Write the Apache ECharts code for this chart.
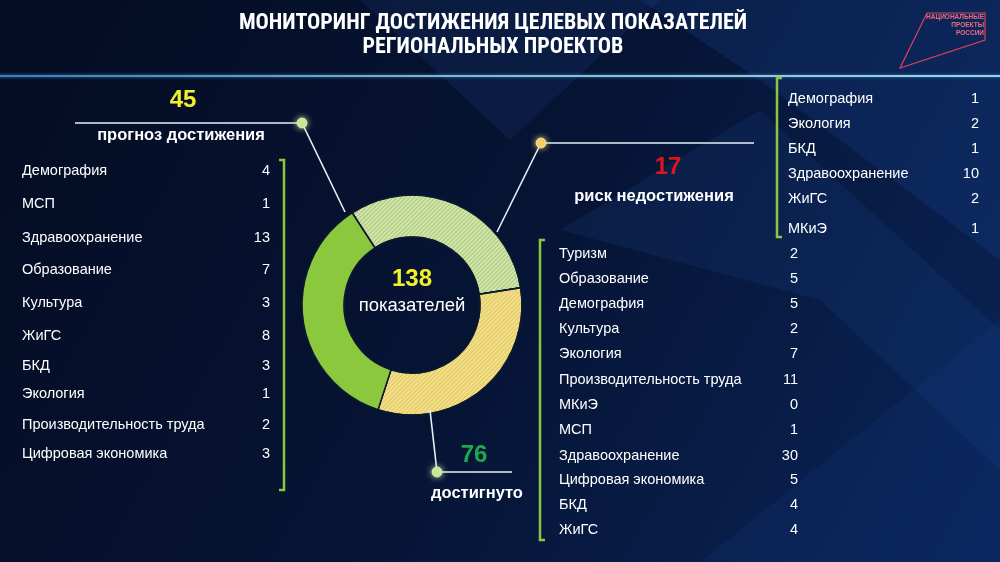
<!DOCTYPE html>
<html><head><meta charset="utf-8">
<script src="https://cdn.jsdelivr.net/npm/echarts@6/dist/echarts.min.js"></script>
<style>html,body{margin:0;padding:0;background:#050f2a;}#c{width:1000px;height:562px;}</style>
</head><body><div id="c"></div>
<script>
// ---- data ----
const titleLines = ['МОНИТОРИНГ ДОСТИЖЕНИЯ ЦЕЛЕВЫХ ПОКАЗАТЕЛЕЙ', 'РЕГИОНАЛЬНЫХ ПРОЕКТОВ'];
const totalCount = 138;
const groupNames = ['прогноз достижения', 'риск недостижения', 'достигнуто'];
const groupTotals = [45, 17, 76];
// arc sizes of the ring as drawn in the picture (degrees): light-green, yellow, green
const ringArcNames = ['прогноз достижения (кольцо)', 'достигнуто (кольцо)', 'прочее (кольцо)'];
const ringArcs = [114, 117, 129];

const forecastCats = ['Демография', 'МСП', 'Здравоохранение', 'Образование', 'Культура', 'ЖиГС', 'БКД', 'Экология', 'Производительность труда', 'Цифровая экономика'];
const forecastVals = [4, 1, 13, 7, 3, 8, 3, 1, 2, 3];

const riskCats = ['Демография', 'Экология', 'БКД', 'Здравоохранение', 'ЖиГС', 'МКиЭ'];
const riskVals = [1, 2, 1, 10, 2, 1];

const doneCats = ['Туризм', 'Образование', 'Демография', 'Культура', 'Экология', 'Производительность труда', 'МКиЭ', 'МСП', 'Здравоохранение', 'Цифровая экономика', 'БКД', 'ЖиГС'];
const doneVals = [2, 5, 5, 2, 7, 11, 0, 1, 30, 5, 4, 4];

// ---- layout ----
const chart = echarts.init(document.getElementById('c'));
const F = 'Arial, "Liberation Sans", sans-serif';
const g = [];

// background shapes
g.push({type:'rect', z:0, shape:{x:0,y:0,width:1000,height:562}, style:{fill:new echarts.graphic.LinearGradient(0,0,1,1,[{offset:0,color:'#040c22'},{offset:0.5,color:'#061434'},{offset:1,color:'#0a2458'}])}});
g.push({type:'polygon', z:0, shape:{points:[[360,0],[660,0],[510,140]]}, style:{fill:'rgba(40,80,160,0.16)'}});
g.push({type:'polygon', z:0, shape:{points:[[560,230],[760,110],[1000,330],[1000,470],[820,300]]}, style:{fill:'rgba(40,90,180,0.13)'}});
g.push({type:'polygon', z:0, shape:{points:[[640,0],[1000,0],[1000,260],[760,80]]}, style:{fill:'rgba(30,80,170,0.2)'}});
g.push({type:'polygon', z:0, shape:{points:[[700,562],[1000,320],[1000,562]]}, style:{fill:'rgba(20,60,140,0.18)'}});

// header glowing line
g.push({type:'rect', z:1, shape:{x:0,y:72,width:1000,height:8}, style:{fill:new echarts.graphic.LinearGradient(0,0,0,1,[{offset:0,color:'rgba(30,90,200,0)'},{offset:0.5,color:'rgba(40,120,220,0.55)'},{offset:1,color:'rgba(30,90,200,0)'}])}});
g.push({type:'rect', z:2, shape:{x:0,y:75,width:1000,height:2}, style:{fill:new echarts.graphic.LinearGradient(0,0,1,0,[{offset:0,color:'#3f7fa0'},{offset:0.5,color:'#8cc0b8'},{offset:1,color:'#a0d8c8'}])}});

// title
titleLines.forEach((t,i)=>g.push({type:'text', z:5, x:493, y:23+i*24, style:{text:t, fill:'#ffffff', font:'bold 22px "Liberation Sans Narrow", "Roboto Condensed", Arial, sans-serif', textAlign:'center', textVerticalAlign:'middle'}}));

// logo
g.push({type:'polyline', z:5, shape:{points:[[927,13],[985,13],[985,40],[900,68],[927,13]]}, style:{stroke:'#d8425e', lineWidth:1.2, fill:null}});
['НАЦИОНАЛЬНЫЕ','ПРОЕКТЫ','РОССИИ'].forEach((t,i)=>g.push({type:'text', z:5, x:984, y:17+i*8, style:{text:t, fill:'#f06a80', font:'bold 6.5px "Liberation Sans Narrow", Arial, sans-serif', textAlign:'right', textVerticalAlign:'middle'}}));

// brackets
function bracket(x, y1, y2, dir){
  g.push({type:'polyline', z:5, shape:{points:[[x+dir*5,y1],[x,y1],[x,y2],[x+dir*5,y2]]}, style:{stroke:'#8cc63e', lineWidth:2.5, fill:null}});
}
bracket(284, 160, 490, -1);
bracket(777, 78, 237, 1);
bracket(540, 240, 540, 1);

// lists
function list(cats, vals, x, valX, ys){
  cats.forEach((c,i)=>{
    g.push({type:'text', z:5, x:x, y:ys[i], style:{text:c, fill:'#ffffff', font:'14.5px '+F, textAlign:'left', textVerticalAlign:'middle'}});
    g.push({type:'text', z:5, x:valX, y:ys[i], style:{text:String(vals[i]), fill:'#ffffff', font:'14.5px '+F, textAlign:'right', textVerticalAlign:'middle'}});
  });
}
list(forecastCats, forecastVals, 22, 270, [171,204,238,270,303,336,366,394,425,454]);
list(riskCats, riskVals, 788, 979, [99,124,149,174,199,229]);
list(doneCats, doneVals, 559, 798, [254,279,304,329,354,380,405,430,456,480,505,530]);

// callouts
function line(pts){ g.push({type:'polyline', z:6, shape:{points:pts}, style:{stroke:'#e8eef8', lineWidth:1.6, fill:null}}); }
function dot(x,y,c){ g.push({type:'circle', z:7, shape:{cx:x,cy:y,r:5}, style:{fill:c, stroke:'rgba(255,255,255,0.6)', lineWidth:1, shadowBlur:6, shadowColor:c}}); }
line([[75,123],[302,123],[345,212]]); dot(302,123,'#c9e890');
line([[754,143],[541,143],[497,232]]); dot(541,143,'#f3d060');
line([[512,472],[437,472],[430,410]]); dot(437,472,'#c9e890');

function big(x,y,t,c){ g.push({type:'text', z:7, x:x, y:y, style:{text:t, fill:c, font:'bold 24px '+F, textAlign:'center', textVerticalAlign:'middle'}}); }
function lbl(x,y,t){ g.push({type:'text', z:7, x:x, y:y, style:{text:t, fill:'#ffffff', font:'bold 16.5px '+F, textAlign:'center', textVerticalAlign:'middle'}}); }
big(183,100,String(groupTotals[0]),'#f2f02a'); lbl(181,135,groupNames[0]);
big(668,167,String(groupTotals[1]),'#e0141e'); lbl(654,196,groupNames[1]);
big(474,455,String(groupTotals[2]),'#20a84c'); lbl(477,493,groupNames[2]);

// centre
g.push({type:'text', z:7, x:412, y:279, style:{text:String(totalCount), fill:'#f2f02a', font:'bold 24px '+F, textAlign:'center', textVerticalAlign:'middle'}});
g.push({type:'text', z:7, x:412, y:306, style:{text:'показателей', fill:'#ffffff', font:'18.5px '+F, textAlign:'center', textVerticalAlign:'middle'}});

const ringStyles = [
  {color:'#d2e5ac', decal:{symbol:'rect', symbolSize:1, dashArrayX:[1,0], dashArrayY:[1,2], rotation:-Math.PI/4, color:'rgba(130,170,70,0.5)'}},
  {color:'#f3df88', decal:{symbol:'rect', symbolSize:1, dashArrayX:[1,0], dashArrayY:[1,2], rotation:-Math.PI/4, color:'rgba(200,170,60,0.45)'}},
  {color:'#8cc83e'}
];

chart.setOption({
  backgroundColor:'#050f2a',
  animation:false,
  graphic:{elements:g},
  series:[{
    type:'pie', center:[412,305], radius:[68,110], startAngle:123, clockwise:true,
    label:{show:false}, labelLine:{show:false}, silent:true, z:4,
    itemStyle:{borderColor:'#0b1a2e', borderWidth:1.5},
    data: ringArcs.map((v,i)=>({name:ringArcNames[i], value:v, itemStyle:ringStyles[i]}))
  }]
});
</script></body></html>
